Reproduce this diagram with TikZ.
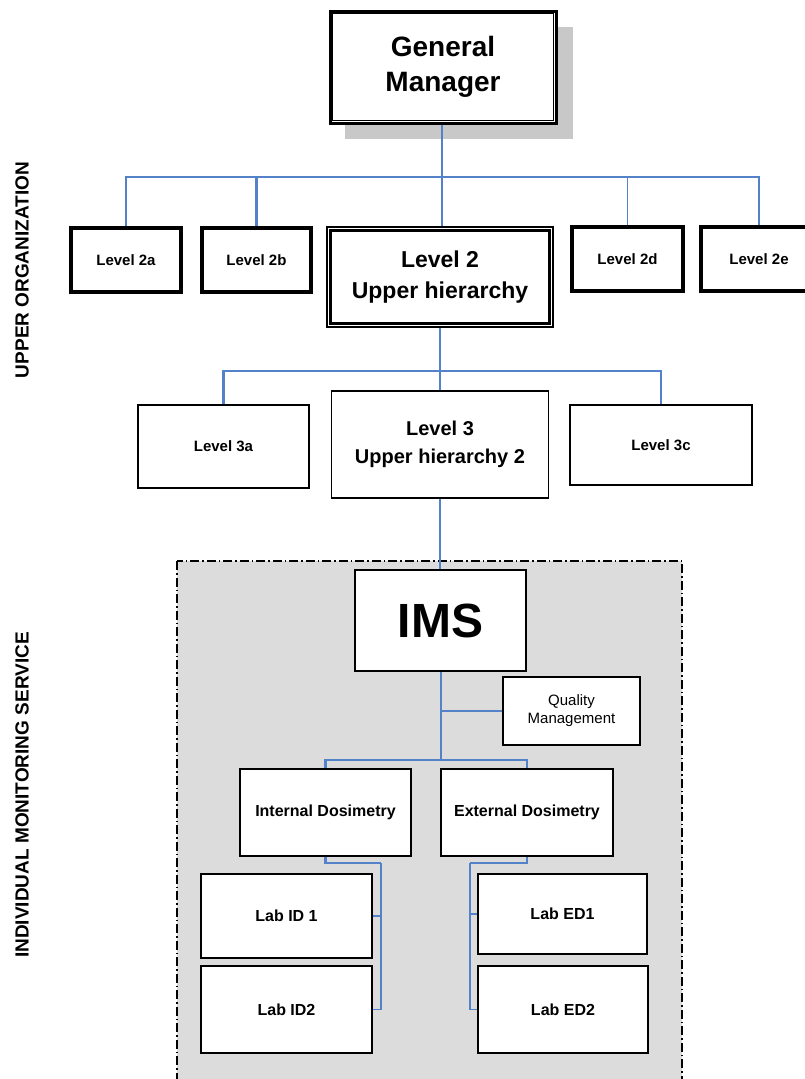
\documentclass[tikz,border=0pt]{standalone}
\usepackage{fontspec}
\setmainfont{Liberation Sans}
\usetikzlibrary{calc}
\definecolor{connblue}{RGB}{84,130,200}
\definecolor{regiongray}{RGB}{220,220,220}
\definecolor{shadowgray}{RGB}{200,200,200}
\tikzset{
  box/.style={draw=black, fill=white, line width=1.4pt, align=center, inner sep=2pt, font=\bfseries\fontsize{15}{18}\selectfont},
  heavybox/.style={box, line width=3.4pt},
  conn/.style={draw=connblue, line width=1.6pt},
  mainconn/.style={draw=connblue, line width=2.6pt},
  sidelabel/.style={rotate=90, font=\bfseries\fontsize{19}{22}\selectfont},
}
\begin{document}
\begin{tikzpicture}[x=1pt,y=-1pt]
\useasboundingbox (0,0) rectangle (805,1079);

% region of the individual monitoring service
\draw[fill=regiongray, line width=1.6pt, dash pattern=on 9pt off 3pt on 1.5pt off 3pt] (177,561) rectangle (682,1090);

% shadow of General Manager
\fill[shadowgray] (345,27) rectangle (573,139);

% side labels
\node[sidelabel] (upperorg) at (22,270) {UPPER ORGANIZATION};
\node[sidelabel] (imslabel) at (22,795) {INDIVIDUAL MONITORING SERVICE};

% nodes
\node[box, line width=3pt, minimum width=226pt, minimum height=112pt, font=\bfseries\fontsize{28}{35}\selectfont] (gm) at (443,67) {General\\Manager};
\draw[line width=1.2pt] ($(gm.north west)+(4,4)$) rectangle ($(gm.south east)+(-4,-4)$);

\node[heavybox, minimum width=110pt, minimum height=64pt] (l2a) at (126,260) {Level 2a};
\node[heavybox, minimum width=109pt, minimum height=64pt] (l2b) at (256.5,260) {Level 2b};
\node[box, line width=1.2pt, minimum width=226pt, minimum height=100pt, font=\bfseries\fontsize{23}{31}\selectfont] (l2) at (440,277) {Level 2\\Upper hierarchy};
\draw[line width=2.6pt] ($(l2.north west)+(4,4)$) rectangle ($(l2.south east)+(-4,-4)$);
\node[heavybox, minimum width=111pt, minimum height=64pt] (l2d) at (627.5,259) {Level 2d};
\node[heavybox, minimum width=116pt, minimum height=64pt] (l2e) at (759,259) {Level 2e};

\node[box, minimum width=171pt, minimum height=83pt] (l3a) at (223.5,446.5) {Level 3a};
\node[box, minimum width=217pt, minimum height=107pt, font=\bfseries\fontsize{20}{28}\selectfont] (l3) at (440,444.5) {Level 3\\Upper hierarchy 2};
\node[box, minimum width=182pt, minimum height=80pt] (l3c) at (661,445) {Level 3c};

\node[box, line width=2.2pt, minimum width=171pt, minimum height=101pt, font=\bfseries\fontsize{48}{52}\selectfont] (ims) at (440.5,620.5) {IMS};
\node[box, minimum width=137pt, minimum height=68pt, font=\fontsize{15}{18}\selectfont] (qm) at (571.5,711) {Quality\\Management};

\node[box, line width=1.8pt, minimum width=171pt, minimum height=87pt, font=\bfseries\fontsize{16}{19}\selectfont] (intd) at (325.5,812.5) {Internal Dosimetry};
\node[box, line width=1.8pt, minimum width=172pt, minimum height=87pt, font=\bfseries\fontsize{16}{19}\selectfont] (extd) at (527,812.5) {External Dosimetry};

\node[box, line width=2.2pt, minimum width=171pt, minimum height=84pt, font=\bfseries\fontsize{16}{19}\selectfont] (labid1) at (286.5,916) {Lab ID 1};
\node[box, line width=2.2pt, minimum width=171pt, minimum height=87pt, font=\bfseries\fontsize{16}{19}\selectfont] (labid2) at (286.5,1009.5) {Lab ID2};
\node[box, line width=2.2pt, minimum width=169pt, minimum height=80pt, font=\bfseries\fontsize{16}{19}\selectfont] (labed1) at (562.5,914) {Lab ED1};
\node[box, line width=2.2pt, minimum width=170pt, minimum height=87pt, font=\bfseries\fontsize{16}{19}\selectfont] (labed2) at (563,1009.5) {Lab ED2};

% connectors: upper organization
\coordinate (bus2) at (442,177);
\draw[mainconn] (gm.south -| bus2) -- (bus2 |- l2.north);
\draw[conn] (l2a.north) |- (bus2) -| (l2e.north);
\draw[mainconn] (l2b.north) -- (l2b.north |- bus2);
\draw[conn] (l2d.north) -- (l2d.north |- bus2);

\coordinate (bus3) at (440,371);
\draw[conn] (l2.south) -- (l3.north);
\draw[mainconn] (l3a.north) |- (bus3);
\draw[conn] (bus3) -| (l3c.north);

% connectors: individual monitoring service
\draw[conn] (l3.south) -- (l3.south |- ims.north);
\coordinate (bus4) at (441,760);
\draw[mainconn] (ims.south -| bus4) -- (bus4);
\draw[conn] (qm.west) -- (qm.west -| bus4);
\draw[mainconn] (intd.north) |- (bus4) -| (extd.north);

\coordinate (ispine) at (381,863);
\draw[mainconn] (intd.south) |- (ispine);
\draw[conn] (ispine) |- (labid2.east);
\draw[conn] (labid1.east) -- (labid1.east -| ispine);

\coordinate (espine) at (470,863);
\draw[mainconn] (extd.south) |- (espine);
\draw[conn] (espine) |- (labed2.west);
\draw[conn] (labed1.west) -- (labed1.west -| espine);
\end{tikzpicture}
\end{document}
